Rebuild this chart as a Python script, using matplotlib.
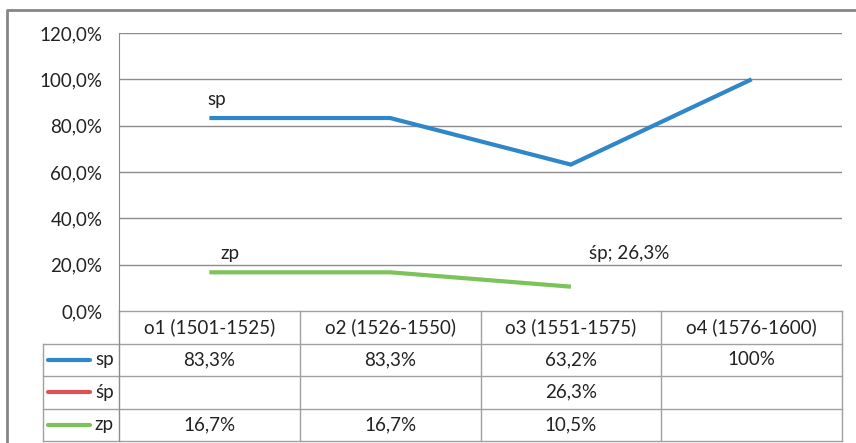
import numpy as np
import matplotlib
matplotlib.use("Agg")
import matplotlib.pyplot as plt
from matplotlib.lines import Line2D

plt.rcParams['font.family'] = ['Lato', 'DejaVu Sans']

# data
categories = ['o1 (1501-1525)', 'o2 (1526-1550)', 'o3 (1551-1575)', 'o4 (1576-1600)']
series_names = ['sp', 'śp', 'zp']
sp = [0.833, 0.833, 0.632, 1.0]
sh = [np.nan, np.nan, 0.263, np.nan]
zp = [0.167, 0.167, 0.105, np.nan]
values = [sp, sh, zp]
colors = ['#2f86c8', '#e05252', '#7cc35a']
yticks = [0.0, 0.2, 0.4, 0.6, 0.8, 1.0, 1.2]

W, H = 856, 443
fig = plt.figure(figsize=(W / 100, H / 100), dpi=100)
fs = 13.5
txt = '#222222'
grid_c = '#8c8c8c'
tab_c = '#a0a0a0'

# plot area (pixel bounds)
L, R, T, B = 119, 842, 33, 311
ax = fig.add_axes([L / W, 1 - B / H, (R - L) / W, (B - T) / H])
x = np.arange(len(categories))
for vals, c in zip(values, colors):
    ax.plot(x, vals, color=c, lw=3, solid_capstyle='butt', solid_joinstyle='miter')

ax.set_xlim(-0.5, len(categories) - 0.5)
ax.set_ylim(0, 1.2)
ax.set_yticks(yticks)
ax.set_yticklabels([f"{v*100:.1f}".replace('.', ',') + '%' for v in yticks],
                   fontsize=fs, color=txt)
ax.tick_params(axis='y', length=0, pad=12)
ax.set_xticks([])
for yv in yticks[1:]:
    ax.axhline(yv, color=grid_c, lw=1, zorder=0)
for s in ['top', 'right', 'bottom']:
    ax.spines[s].set_visible(False)
ax.spines['left'].set_color(grid_c)

# data labels
ax.annotate('sp', (0, sp[0]), xytext=(-2, 19), textcoords='offset pixels',
            ha='left', va='center', fontsize=fs, color=txt)
ax.annotate('zp', (0, zp[0]), xytext=(11, 19), textcoords='offset pixels',
            ha='left', va='center', fontsize=fs, color=txt)
ax.annotate('śp; ' + f"{sh[2]*100:.1f}".replace('.', ',') + '%', (2, sh[2]),
            xytext=(18, -3), textcoords='offset pixels',
            ha='left', va='center', fontsize=fs, color=txt)

# data table
TL, TB = 43, 441
leg_w = (L - TL) / ((R - L) / len(categories))
tab = fig.add_axes([TL / W, 1 - TB / H, (R - TL) / W, (TB - B) / H])
tab.set_xlim(-0.5 - leg_w, len(categories) - 0.5)
tab.set_ylim(len(series_names) + 1, 0)
tab.axis('off')
x0 = -0.5 - leg_w
xr = len(categories) - 0.5
nrow = len(series_names) + 1
# horizontal lines
tab.plot([-0.5, xr], [0, 0], color=tab_c, lw=1, clip_on=False)
for r in range(1, nrow + 1):
    tab.plot([x0, xr], [r, r], color=tab_c, lw=1, clip_on=False)
# vertical lines
tab.plot([x0, x0], [1, nrow], color=tab_c, lw=1, clip_on=False)
for i in range(len(categories) + 1):
    tab.plot([i - 0.5, i - 0.5], [0, nrow], color=tab_c if i else grid_c, lw=1, clip_on=False)

for i, c in enumerate(categories):
    tab.text(i, 0.5, c, ha='center', va='center', fontsize=fs, color=txt)


def fmt(v):
    if np.isnan(v):
        return ''
    if v == 1.0:
        return '100%'
    return f"{v*100:.1f}".replace('.', ',') + '%'


for r, (name, vals, c) in enumerate(zip(series_names, values, colors)):
    yy = r + 1.5
    tab.plot([x0 + 0.03, x0 + 0.26], [yy, yy], color=c, lw=3, solid_capstyle='round')
    tab.text(-0.5 - 0.03, yy, name, ha='right', va='center', fontsize=fs, color=txt)
    for i, v in enumerate(vals):
        tab.text(i, yy, fmt(v), ha='center', va='center', fontsize=fs, color=txt)

# outer chart frame
fig.add_artist(Line2D([7.5 / W, 7.5 / W, 1], [0, 1 - 10 / H, 1 - 10 / H],
                      transform=fig.transFigure, color='#868686', lw=2))

fig.savefig('out.png', dpi=100)
